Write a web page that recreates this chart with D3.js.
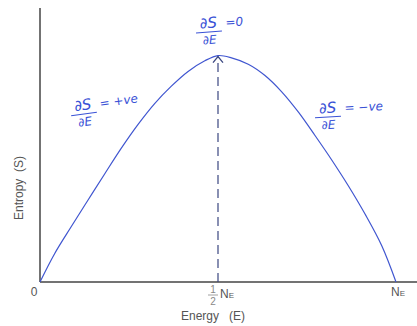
<!DOCTYPE html>
<html>
<head>
<meta charset="utf-8">
<script src="https://cdn.jsdelivr.net/npm/d3@7"></script>
<style>
  body { margin: 0; background: #fff; }
  text { font-family: "Liberation Sans", Arial, sans-serif; }
  .hand { font-family: "DejaVu Sans", sans-serif; fill: #3a52d6; font-style: italic; }
</style>
</head>
<body>
<div id="chart"></div>
<script>
// energy as a fraction of N_E, entropy relative to the peak
var energy  = [0, 0.041, 0.088, 0.135, 0.182, 0.228, 0.275, 0.322, 0.369, 0.416, 0.463, 0.5,
               0.538, 0.585, 0.632, 0.679, 0.726, 0.772, 0.819, 0.866, 0.913, 0.96, 1.0]
var entropy = [0, 0.125, 0.245, 0.362, 0.478, 0.59, 0.695, 0.788, 0.865, 0.93, 0.977, 1.0,
               0.99, 0.962, 0.912, 0.84, 0.75, 0.648, 0.54, 0.425, 0.3, 0.16, 0]
var tickValues = [0, 0.5, 1]
var peakEnergy = 0.5

var width = 417, height = 326
var margin = {top: 8, right: 0, bottom: 44, left: 40}

var svg = d3.select("#chart").append("svg")
    .attr("width", width)
    .attr("height", height)

var x = d3.scaleLinear().domain([0, 1]).range([margin.left, 396])
var y = d3.scaleLinear().domain([0, 1.21]).range([height - margin.bottom, margin.top])

// axes
svg.append("line")
    .attr("x1", x(0)).attr("x2", x(0))
    .attr("y1", margin.top).attr("y2", y(0))
    .attr("stroke", "#444").attr("stroke-width", 1.5)
svg.append("line")
    .attr("x1", x(0)).attr("x2", width)
    .attr("y1", y(0)).attr("y2", y(0))
    .attr("stroke", "#444").attr("stroke-width", 1.5)

// curve
var pts = energy.map((e, i) => [e, entropy[i]])
svg.append("path")
    .datum(pts)
    .attr("fill", "none")
    .attr("stroke", "#4056d0")
    .attr("stroke-width", 1.2)
    .attr("d", d3.line().x(d => x(d[0])).y(d => y(d[1])).curve(d3.curveCatmullRom.alpha(0.5)))

// dashed line to the peak, with an open arrowhead
var px = x(peakEnergy), py = y(1)
svg.append("line")
    .attr("x1", px).attr("x2", px)
    .attr("y1", y(0)).attr("y2", py + 1)
    .attr("stroke", "#3b4780")
    .attr("stroke-width", 1.2)
    .attr("stroke-dasharray", "9,5")
svg.append("path")
    .attr("d", "M" + (px - 5) + "," + (py + 7) + " L" + px + "," + (py + 1) + " L" + (px + 5) + "," + (py + 7))
    .attr("fill", "none")
    .attr("stroke", "#3b4780")
    .attr("stroke-width", 1.3)

// tick labels
var tickG = svg.append("g").attr("fill", "#555").attr("font-size", 12)
tickG.append("text").attr("x", x(tickValues[0]) - 6).attr("y", y(0) + 14)
    .attr("text-anchor", "middle").text("0")
// 1/2 N_E
var hx = x(tickValues[1])
tickG.append("text").attr("x", hx - 5).attr("y", y(0) + 11)
    .attr("text-anchor", "middle").attr("font-size", 10).attr("fill", "#888").text("1")
tickG.append("line").attr("x1", hx - 10).attr("x2", hx)
    .attr("y1", y(0) + 13).attr("y2", y(0) + 13).attr("stroke", "#888").attr("stroke-width", 0.8)
tickG.append("text").attr("x", hx - 5).attr("y", y(0) + 23)
    .attr("text-anchor", "middle").attr("font-size", 10).attr("fill", "#888").text("2")
var nh = tickG.append("text").attr("x", hx + 2).attr("y", y(0) + 16)
nh.append("tspan").text("N")
nh.append("tspan").attr("font-size", 8).text("E")
var nf = tickG.append("text").attr("x", x(tickValues[2]) - 5).attr("y", y(0) + 14)
nf.append("tspan").text("N")
nf.append("tspan").attr("font-size", 8).text("E")

// axis titles
svg.append("text")
    .attr("x", 213).attr("y", 320)
    .attr("text-anchor", "middle")
    .attr("font-size", 12).attr("fill", "#555")
    .attr("xml:space", "preserve")
    .text("Energy   (E)")
svg.append("text")
    .attr("transform", "translate(23,188) rotate(-90)")
    .attr("text-anchor", "middle")
    .attr("font-size", 12).attr("fill", "#555")
    .attr("xml:space", "preserve")
    .text("Entropy  (S)")

// derivative notes
function note(cx, cy, rhs, rot) {
  var g = svg.append("g").attr("transform", "translate(" + cx + "," + cy + ") rotate(" + rot + ")")
  g.append("text").attr("class", "hand").attr("x", 0).attr("y", -4)
      .attr("text-anchor", "middle").attr("font-size", 15).text("∂S")
  g.append("line").attr("x1", -13).attr("x2", 13).attr("y1", 0).attr("y2", 0)
      .attr("stroke", "#3a52d6").attr("stroke-width", 1)
  g.append("text").attr("class", "hand").attr("x", 0).attr("y", 12)
      .attr("text-anchor", "middle").attr("font-size", 12).text("∂E")
  g.append("text").attr("class", "hand").attr("x", 17).attr("y", -4)
      .attr("font-size", 12).text(rhs)
}
note(209, 32, "=0", -4)
note(84, 114, "= +ve", -8)
note(328, 117, "= −ve", -3)
</script>
</body>
</html>
